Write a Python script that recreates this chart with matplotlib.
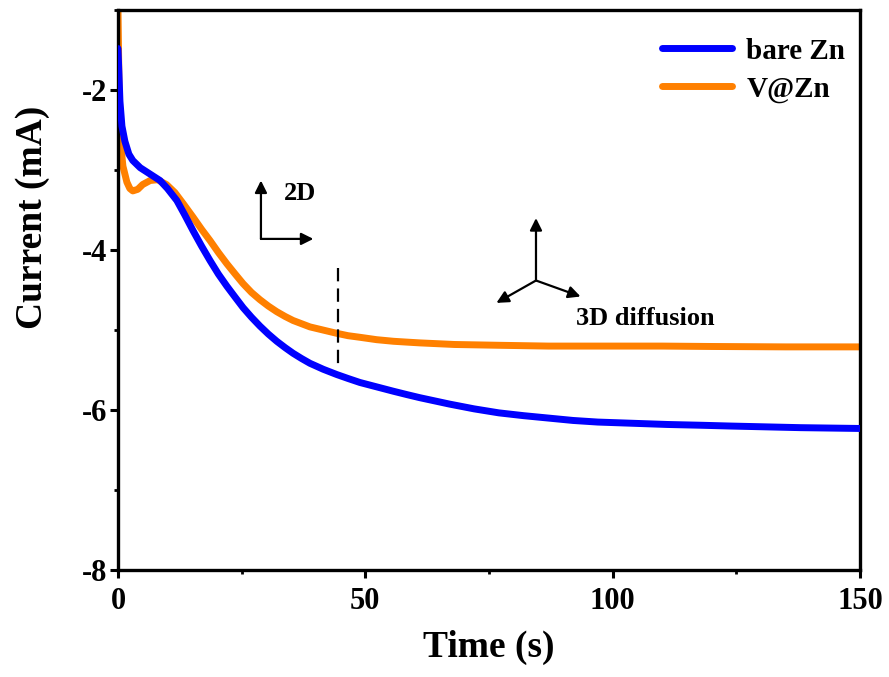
import matplotlib
matplotlib.use("Agg")
import matplotlib.pyplot as plt
from matplotlib.ticker import MultipleLocator

plt.rcParams['font.family'] = ['Liberation Serif', 'DejaVu Serif']
plt.rcParams['font.weight'] = 'bold'
plt.rcParams['axes.unicode_minus'] = False

# bare Zn chronoamperometry
bare_t = [0, 0.2, 0.4, 0.8, 1.4, 2.2, 3.0, 4.5, 6.5, 8.5, 10.0, 11.9, 13.5, 15.2,
          16.9, 18.6, 20.3, 22.0, 23.7, 25.3, 27.0, 28.7, 30.4, 32.1, 33.8,
          35.4, 37.1, 38.8, 41.5, 44.2, 46.5, 48.9, 52.3, 55.7, 58.3, 61.0,
          64.0, 67.0, 72.0, 77.0, 82.0, 87.0, 92.0, 97.0, 104.0, 111.0,
          118.0, 124.0, 131.0, 138.0, 144.0, 150.0]
bare_i = [-1.48, -1.8, -2.14, -2.45, -2.64, -2.8, -2.88, -2.97, -3.05, -3.13,
          -3.23, -3.38, -3.56, -3.76, -3.95, -4.13, -4.30, -4.45, -4.59, -4.72,
          -4.84, -4.95, -5.05, -5.14, -5.22, -5.29, -5.355, -5.415, -5.49, -5.555,
          -5.605, -5.655, -5.71, -5.765, -5.805, -5.845, -5.885, -5.925, -5.985, -6.035,
          -6.07, -6.10, -6.13, -6.15, -6.165, -6.18, -6.19, -6.20, -6.21, -6.22,
          -6.225, -6.23]

# V@Zn
vzn_t = [0, 0.2, 0.5, 1.0, 1.8, 2.4, 3.0, 4.0, 5.0, 6.5, 8.0, 9.8, 11.5, 13.2,
         15.2, 16.9, 18.6, 20.3, 22.0, 23.7, 25.3, 27.0, 28.7, 30.4, 32.1,
         33.8, 35.4, 37.1, 38.8, 41.5, 44.2, 46.5, 48.9, 52.3, 55.7, 58.3,
         61.0, 68.0, 77.0, 87.0, 97.0, 110.0, 120.0, 135.0, 150.0]
vzn_i = [-0.95, -1.9, -2.64, -2.95, -3.15, -3.23, -3.26, -3.24, -3.18, -3.13,
         -3.12, -3.18, -3.28, -3.42, -3.59, -3.74, -3.88, -4.03, -4.17, -4.30,
         -4.42, -4.53, -4.62, -4.70, -4.77, -4.83, -4.88, -4.92, -4.96, -5.00,
         -5.04, -5.07, -5.09, -5.12, -5.14, -5.15, -5.16, -5.18, -5.19, -5.20,
         -5.20, -5.20, -5.205, -5.21, -5.21]

fig = plt.figure(figsize=(8.89, 6.77), dpi=100)
ax = fig.add_axes([0.1327, 0.158, 0.8347, 0.827])

ax.plot(bare_t, bare_i, color='#0000FF', lw=5, solid_joinstyle='round',
        solid_capstyle='round', label='bare Zn', zorder=3)
ax.plot(vzn_t, vzn_i, color='#FF8000', lw=5, solid_joinstyle='round',
        solid_capstyle='round', label='V@Zn', zorder=2)

# boundary between 2D and 3D growth
ax.plot([44.5, 44.5], [-4.23, -5.5], color='black', lw=1.6, ls=(0, (6, 3.2)), zorder=4)

arrow = dict(arrowstyle='-|>', color='black', lw=1.6, mutation_scale=18,
             shrinkA=0, shrinkB=0)
ax.annotate('', xy=(28.9, -3.13), xytext=(28.9, -3.86), arrowprops=arrow)
ax.annotate('', xy=(39.5, -3.86), xytext=(28.9, -3.86), arrowprops=arrow)
ax.text(33.5, -3.29, '2D', fontsize=19, ha='left', va='center')

ax.annotate('', xy=(84.5, -3.6), xytext=(84.5, -4.38), arrowprops=arrow)
ax.annotate('', xy=(76.5, -4.66), xytext=(84.5, -4.38), arrowprops=arrow)
ax.annotate('', xy=(93.5, -4.58), xytext=(84.5, -4.38), arrowprops=arrow)
ax.text(92.5, -4.85, '3D diffusion', fontsize=19, ha='left', va='center')

ax.set_xlim(0, 150)
ax.set_ylim(-8, -1)
ax.xaxis.set_major_locator(MultipleLocator(50))
ax.xaxis.set_minor_locator(MultipleLocator(25))
ax.set_yticks([-8, -6, -4, -2])
ax.yaxis.set_minor_locator(MultipleLocator(1))
ax.tick_params(which='major', direction='out', length=6, width=2.2,
               labelsize=22, pad=2)
ax.tick_params(which='minor', direction='out', length=3, width=2)
ax.tick_params(axis='x', which='major', pad=6)
for s in ax.spines.values():
    s.set_linewidth(2.4)

ax.set_xlabel('Time (s)', fontsize=27, fontweight='bold', labelpad=10)
ax.set_ylabel('Current (mA)', fontsize=27, fontweight='bold')
ax.yaxis.set_label_coords(-0.091, 0.63)

ax.legend(loc='upper right', bbox_to_anchor=(0.98, 0.951), frameon=False,
          fontsize=21, handlelength=2.4, handletextpad=0.5, labelspacing=0.38,
          borderpad=0, borderaxespad=0)

fig.savefig('out.png', dpi=100)
